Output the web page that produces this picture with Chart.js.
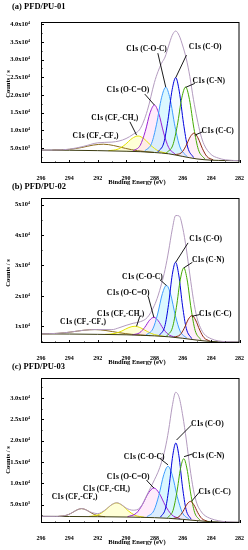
<!DOCTYPE html>
<html lang="en">
<head>
<meta charset="UTF-8">
<title>C1s spectra of PFD/PU films</title>
<script src="https://cdn.jsdelivr.net/npm/chart.js"></script>
<style>
    body {
        margin: 0;
        background: #fff;
    }

    .panel {
        position: absolute;
        left: 0;
        width: 248px;
        height: 190px;
    }
</style>
</head>
<body>
<div class="panel" style="top:0"><canvas id="chartA" width="248" height="190"></canvas></div>
<div class="panel" style="top:180px"><canvas id="chartB" width="248" height="190"></canvas></div>
<div class="panel" style="top:360px"><canvas id="chartC" width="248" height="190"></canvas></div>

<script>
// component order: C-C, C-N, C-O, C-O-C, O-C=O, CF2-CH2, CF2-CF2
const peakNames = ['C1s (C-C)', 'C1s (C-N)', 'C1s (C-O)', 'C1s (C-O-C)', 'C1s (O-C=O)', 'C1s (CF\u2082-CH\u2082)', 'C1s (CF\u2082-CF\u2082)'];
const xTicks = [296, 294, 292, 290, 288, 286, 284, 282];

// ---- (a) PFD/PU-01 ----
const aTicks = [5000, 10000, 15000, 20000, 25000, 30000, 35000, 40000];
const aTickLabels = ['5.0x10\u00b3', '1.0x10\u2074', '1.5x10\u2074', '2.0x10\u2074', '2.5x10\u2074', '3.0x10\u2074', '3.5x10\u2074', '4.0x10\u2074'];
const aBgE = [296, 294, 292, 290, 289, 288, 287, 286, 285, 284, 283, 282];
const aBgY = [4450, 4400, 4290, 4120, 4000, 3760, 3400, 2650, 1950, 1600, 1500, 1450];
const aEnvE = [296, 295, 294, 293, 292, 291, 290.5, 290, 289.5, 289, 288.5, 288, 287.75, 287.5, 287.25, 287, 286.75, 286.5, 286.25, 286, 285.75, 285.5, 285.25, 285, 284.75, 284.5, 284, 283.5, 283, 282];
const aEnvY = [4452, 4470, 4700, 5500, 6500, 6700, 7000, 7700, 8900, 10500, 15600, 23550, 26580, 28930, 30720, 33840, 36790, 38050, 36720, 33820, 30200, 25150, 18800, 13500, 9000, 6000, 3200, 2200, 1700, 1450];
const aPeakE = [
    [286.55, 286.1, 285.785, 285.47, 285.2, 284.93, 284.615, 284.3, 283.85],
    [287.15, 286.7, 286.385, 286.07, 285.8, 285.53, 285.215, 284.9, 284.45],
    [287.76, 287.34, 287.05, 286.75, 286.5, 286.25, 285.95, 285.66, 285.24],
    [288.7, 288.2, 287.85, 287.5, 287.2, 286.9, 286.55, 286.2, 285.7],
    [289.5, 289.0, 288.65, 288.3, 288.0, 287.7, 287.35, 287.0, 286.5],
    [291.25, 290.55, 290.06, 289.57, 289.15, 288.73, 288.24, 287.75, 287.05],
    [295.2, 294.0, 293.16, 292.32, 291.6, 290.88, 290.04, 289.2, 288.0]
];
const aPeakY = [
    [3149, 3695, 5555, 8220, 9240, 7900, 4865, 2655, 1669],
    [3677, 5866, 11433, 19191, 22240, 18761, 10583, 4586, 1957],
    [3920, 6481, 12820, 21493, 24890, 21093, 12010, 5331, 2340],
    [4146, 6355, 11751, 19215, 22175, 18945, 11111, 5325, 2636],
    [4207, 5809, 9697, 15049, 17160, 14849, 9292, 5209, 3177],
    [4263, 4749, 6017, 7749, 8420, 7619, 5722, 4274, 3468],
    [4455, 4650, 5150, 5855, 6105, 5735, 4920, 4275, 3780]
];

// ---- (b) PFD/PU-02 ----
const bTicks = [10000, 20000, 30000, 40000, 50000];
const bTickLabels = ['1x10\u2074', '2x10\u2074', '3x10\u2074', '4x10\u2074', '5x10\u2074'];
const bBgE = [296, 294, 292, 290, 289, 288, 287, 286, 285, 284, 283, 282];
const bBgY = [7500, 7450, 7350, 7200, 7050, 6850, 6550, 6050, 5450, 5000, 4850, 4800];
const bEnvE = [296, 295, 294, 293, 292, 291, 290.5, 290, 289.5, 289, 288.5, 288, 287.75, 287.5, 287.25, 287, 286.75, 286.5, 286.25, 286, 285.75, 285.5, 285.25, 285, 284.75, 284.5, 284, 283.5, 283, 282];
const bEnvY = [7522, 7630, 8050, 8700, 8950, 8900, 9500, 10300, 11000, 11500, 12900, 16900, 19970, 23960, 28680, 34750, 41700, 46440, 46280, 42280, 35440, 26900, 18800, 12800, 9500, 7500, 5900, 5200, 4950, 4800];
const bPeakE = [
    [286.61, 286.19, 285.896, 285.602, 285.35, 285.098, 284.804, 284.51, 284.09],
    [287.13, 286.73, 286.45, 286.17, 285.93, 285.69, 285.41, 285.13, 284.73],
    [287.65, 287.27, 287.004, 286.738, 286.51, 286.282, 286.016, 285.75, 285.37],
    [288.59, 288.11, 287.774, 287.438, 287.15, 286.862, 286.526, 286.19, 285.71],
    [289.54, 289.04, 288.69, 288.34, 288.04, 287.74, 287.39, 287.04, 286.54],
    [291.48, 290.78, 290.29, 289.8, 289.38, 288.96, 288.47, 287.98, 287.28],
    [296.0, 294.8, 293.89, 292.98, 292.2, 291.42, 290.51, 289.6, 288.3]
];
const bPeakY = [
    [6446, 7205, 9366, 12365, 13510, 12065, 8741, 6290, 5126],
    [6845, 9547, 16251, 25507, 29210, 25237, 15671, 8662, 5585],
    [7017, 9971, 17193, 27086, 31055, 26856, 16703, 9241, 5942],
    [7151, 9157, 14034, 20766, 23465, 20566, 13569, 8422, 6061],
    [7197, 7879, 9608, 12014, 12960, 11864, 9293, 7384, 6387],
    [7342, 7652, 8467, 9592, 10010, 9462, 8192, 7237, 6667],
    [7522, 7679, 8112, 8694, 8910, 8599, 7907, 7349, 6927]
];

// ---- (c) PFD/PU-03 ----
const cTicks = [5000, 10000, 15000, 20000, 25000, 30000];
const cTickLabels = ['5.0x10\u00b3', '1.0x10\u2074', '1.5x10\u2074', '2.0x10\u2074', '2.5x10\u2074', '3.0x10\u2074'];
const cBgE = [296, 294, 292, 290, 289, 288, 287, 286, 285, 284, 283, 282];
const cBgY = [2260, 2230, 2180, 2100, 2040, 1950, 1800, 1550, 1250, 1000, 900, 860];
const cEnvE = [296, 295, 294.5, 294, 293.5, 293.13, 292.5, 292, 291.5, 291, 290.65, 290.3, 290, 289.5, 289, 288.5, 288, 287.75, 287.5, 287.25, 287, 286.75, 286.5, 286.25, 286, 285.75, 285.5, 285.25, 285, 284.75, 284.5, 284, 283.5, 283, 282];
const cEnvY = [2260, 2255, 2330, 2770, 3720, 4090, 3260, 2900, 3700, 5030, 5450, 4950, 4200, 3700, 4350, 7460, 10820, 12610, 14940, 18040, 22450, 27950, 31350, 30070, 25800, 20170, 13780, 8500, 5200, 3600, 2600, 1700, 1250, 1000, 860];
const cPeakE = [
    [286.66, 286.26, 285.98, 285.7, 285.46, 285.22, 284.94, 284.66, 284.26],
    [287.07, 286.69, 286.424, 286.158, 285.93, 285.702, 285.436, 285.17, 284.79],
    [287.57, 287.21, 286.958, 286.706, 286.49, 286.274, 286.022, 285.77, 285.41],
    [288.54, 288.04, 287.69, 287.34, 287.04, 286.74, 286.39, 286.04, 285.54],
    [289.9, 289.28, 288.846, 288.412, 288.04, 287.668, 287.234, 286.8, 286.18],
    [292.62, 291.97, 291.515, 291.06, 290.67, 290.28, 289.825, 289.37, 288.72],
    [294.78, 294.23, 293.845, 293.46, 293.13, 292.8, 292.415, 292.03, 291.48]
];
const cPeakY = [
    [1763, 2206, 3428, 5117, 5770, 4972, 3118, 1756, 1113],
    [1967, 3644, 7783, 13494, 15780, 13359, 7508, 3224, 1357],
    [2081, 4230, 9435, 16571, 19450, 16466, 9200, 3880, 1571],
    [2134, 3601, 7142, 12034, 13995, 11914, 6892, 3206, 1544],
    [2171, 2995, 5014, 7793, 8905, 7703, 4824, 2688, 1671],
    [2231, 2623, 3570, 4881, 5407, 4854, 3500, 2505, 2051],
    [2260, 2486, 3025, 3768, 4068, 3753, 2990, 2431, 2180]
];

const SERIF = '"Liberation Serif", "DejaVu Serif", serif';
const peakColors = ['#8b2a10', '#44aa00', '#0000dd', '#3d9cff', '#9922d4', '#e2e200', '#8a6a1a'];
const peakFills = ['rgba(255,215,240,0.4)', false, 'rgba(210,240,255,0.25)', 'rgba(175,240,255,0.45)', 'rgba(255,212,246,0.45)', 'rgba(255,255,175,0.5)', false];

function toPoints(es, ys) {
    return es.map((e, i) => ({ x: e, y: ys[i] }));
}

function makeChart(id, p) {
    const datasets = [
        { data: toPoints(p.envE, p.envY), borderColor: '#b39bbf', fill: false },
        { data: toPoints(p.bgE, p.bgY), borderColor: '#3a3a10', fill: false }
    ];
    p.peakE.forEach((es, i) => {
        datasets.push({
            data: toPoints(es, p.peakY[i]),
            borderColor: peakColors[i],
            backgroundColor: peakFills[i] || 'transparent',
            fill: peakFills[i] ? 1 : false
        });
    });

    // frame, inward ticks, titles and peak labels
    const decor = {
        id: 'decor',
        afterDraw(chart) {
            const { ctx, chartArea: a, scales: { x, y } } = chart;
            ctx.save();
            ctx.strokeStyle = '#000';
            ctx.lineWidth = 1;
            ctx.strokeRect(a.left + 0.5, a.top + 0.5, a.right - a.left - 1, a.bottom - a.top - 1);

            ctx.beginPath();
            for (let e = 282; e <= 296; e++) {
                const px = Math.round(x.getPixelForValue(e)) + 0.5;
                const len = e % 2 === 0 ? 3 : 1.5;
                ctx.moveTo(px, a.bottom);
                ctx.lineTo(px, a.bottom - len);
            }
            const step = p.ticks[1] - p.ticks[0];
            for (let v = p.ticks[0] - step / 2; v <= p.yMax; v += step / 2) {
                if (v < p.yMin) continue;
                const py = Math.round(y.getPixelForValue(v)) + 0.5;
                const major = p.ticks.indexOf(v) >= 0;
                ctx.moveTo(a.left, py);
                ctx.lineTo(a.left + (major ? 3 : 1.5), py);
            }
            ctx.stroke();

            ctx.fillStyle = '#000';
            ctx.font = 'bold 8.5px ' + SERIF;
            ctx.textAlign = 'left';
            ctx.textBaseline = 'middle';
            ctx.fillText(p.title, 12, 7);

            ctx.font = 'bold 6.5px ' + SERIF;
            ctx.textAlign = 'center';
            ctx.fillText('Binding Energy (eV)', 137, 182.5);
            ctx.save();
            ctx.translate(8, p.yTitleY);
            ctx.rotate(-Math.PI / 2);
            ctx.fillText('Counts / s', 0, 0);
            ctx.restore();

            ctx.lineWidth = 0.9;
            ctx.font = 'bold 7.5px ' + SERIF;
            p.notes.forEach(n => {
                if (n.line) {
                    ctx.beginPath();
                    ctx.moveTo(x.getPixelForValue(n.line[0]), y.getPixelForValue(n.line[1]));
                    ctx.lineTo(x.getPixelForValue(n.line[2]), y.getPixelForValue(n.line[3]));
                    ctx.stroke();
                }
                ctx.fillText(peakNames[n.k], x.getPixelForValue(n.at[0]), y.getPixelForValue(n.at[1]));
            });
            ctx.restore();
        }
    };

    return new Chart(document.getElementById(id), {
        type: 'line',
        data: { datasets: datasets },
        options: {
            responsive: false,
            animation: false,
            layout: { padding: { top: p.top, left: 0, right: 8, bottom: 0 } },
            elements: {
                line: { borderWidth: 1, cubicInterpolationMode: 'monotone' },
                point: { radius: 0 }
            },
            plugins: {
                legend: { display: false },
                tooltip: { enabled: false },
                filler: { drawTime: 'beforeDatasetsDraw' }
            },
            scales: {
                x: {
                    type: 'linear', reverse: true, min: 282, max: 296,
                    afterBuildTicks: s => { s.ticks = xTicks.map(v => ({ value: v })); },
                    afterFit: s => { s.height = 27; },
                    ticks: { font: { family: SERIF, size: 6, weight: 'bold' }, color: '#000', padding: 4, maxRotation: 0, autoSkip: false },
                    grid: { display: false },
                    border: { display: false }
                },
                y: {
                    type: 'linear', min: p.yMin, max: p.yMax,
                    afterBuildTicks: s => { s.ticks = p.ticks.map(v => ({ value: v })); },
                    afterFit: s => { s.width = 41; },
                    ticks: {
                        font: { family: SERIF, size: 6.5, weight: 'bold' }, color: '#000', padding: 3, autoSkip: false,
                        callback: (v, i) => p.tickLabels[i]
                    },
                    grid: { display: false },
                    border: { display: false }
                }
            }
        },
        plugins: [decor]
    });
}

makeChart('chartA', {
    title: '(a) PFD/PU-01', top: 22, yTitleY: 84, yMin: 800, yMax: 40600,
    ticks: aTicks, tickLabels: aTickLabels,
    bgE: aBgE, bgY: aBgY, envE: aEnvE, envY: aEnvY, peakE: aPeakE, peakY: aPeakY,
    notes: [
        { k: 0, at: [283.54, 9900], line: [284.6, 9600, 285.15, 8670] },
        { k: 1, at: [284.17, 23840], line: [285.15, 23270, 285.8, 22150] },
        { k: 2, at: [284.42, 33600], line: [285.74, 31270, 286.5, 24860] },
        { k: 3, at: [288.56, 32880], line: [287.76, 31800, 287.2, 22200] },
        { k: 4, at: [289.87, 21400], line: [288.68, 20250, 288.0, 17150] },
        { k: 5, at: [290.8, 13390], line: [289.73, 12430, 289.26, 8670] },
        { k: 6, at: [292.16, 8390], line: null }
    ]
});

makeChart('chartB', {
    title: '(b) PFD/PU-02', top: 18, yTitleY: 93, yMin: 4500, yMax: 52200,
    ticks: bTicks, tickLabels: bTickLabels,
    bgE: bBgE, bgY: bBgY, envE: bEnvE, envY: bEnvY, peakE: bPeakE, peakY: bPeakY,
    notes: [
        { k: 0, at: [283.71, 14180], line: [284.8, 13850, 285.35, 13300] },
        { k: 1, at: [284.22, 31940], line: [285.32, 31050, 285.93, 29200] },
        { k: 2, at: [284.39, 38750], line: [285.63, 37430, 286.5, 31050] },
        { k: 3, at: [288.85, 26250], line: [287.62, 25360, 287.15, 23400] },
        { k: 4, at: [289.85, 21000], line: [288.44, 19870, 288.04, 12960] },
        { k: 5, at: [290.38, 14080], line: [289.03, 13290, 289.26, 10000] },
        { k: 6, at: [293.04, 11300], line: null }
    ]
});

makeChart('chartC', {
    title: '(c) PFD/PU-03', top: 18, yTitleY: 100, yMin: 700, yMax: 34700,
    ticks: cTicks, tickLabels: cTickLabels,
    bgE: cBgE, bgY: cBgY, envE: cEnvE, envY: cEnvY, peakE: cPeakE, peakY: cPeakY,
    notes: [
        { k: 0, at: [283.76, 7880], line: [284.8, 8050, 285.39, 5770] },
        { k: 1, at: [284.21, 16480], line: [285.32, 16880, 285.91, 16250] },
        { k: 2, at: [284.27, 23980], line: [285.39, 23670, 286.44, 20160] },
        { k: 3, at: [288.73, 16180], line: [287.62, 15850, 287.04, 14330] },
        { k: 4, at: [289.85, 11490], line: [288.56, 10730, 288.04, 8900] },
        { k: 5, at: [291.38, 8590], line: null },
        { k: 6, at: [293.63, 6880], line: null }
    ]
});
</script>
</body>
</html>
